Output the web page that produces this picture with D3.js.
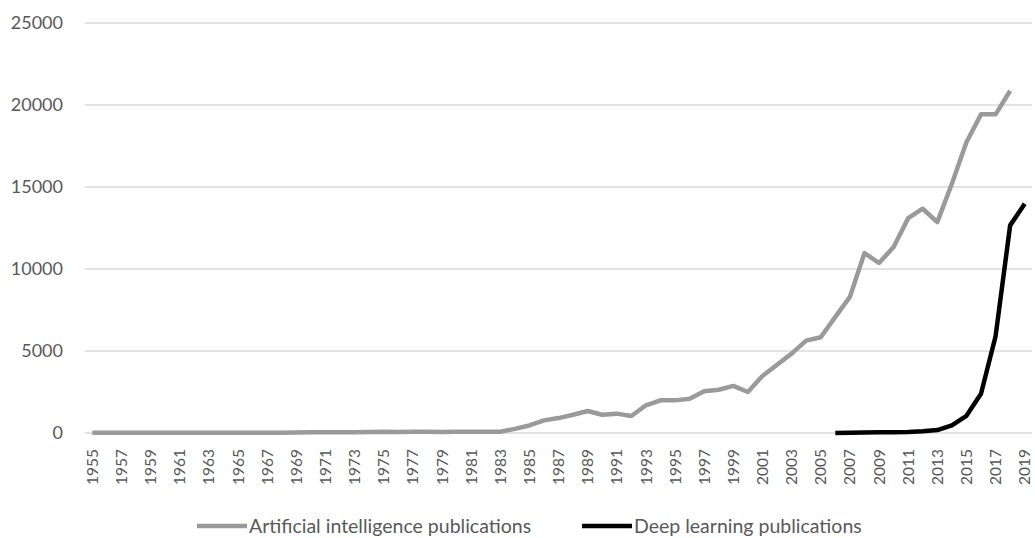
<!DOCTYPE html>
<html><head><meta charset="utf-8">
<script src="https://cdn.jsdelivr.net/npm/d3@7"></script>
<style>body{margin:0;background:#fff;}svg{display:block;font-family:Lato,"Open Sans",sans-serif;}</style>
</head><body><svg id="c" width="1035" height="538"></svg>
<script>
const years = d3.range(1955, 2020).map(String);
const aiYears = d3.range(1955, 2019).map(String);
const aiValues = [10,10,10,10,10,10,10,10,10,10,10,10,15,20,30,40,50,50,50,60,80,60,80,70,60,70,80,80,80,250,460,770,910,1110,1340,1110,1180,1040,1690,1990,1990,2090,2540,2640,2870,2500,3480,4160,4840,5630,5840,7080,8300,10970,10365,11340,13100,13675,12860,15200,17730,19430,19430,20870];
const dlYears = d3.range(2006, 2020).map(String);
const dlValues = [0,10,30,40,40,60,100,180,460,1050,2390,5900,12660,13980];
const yTicks = [0,5000,10000,15000,20000,25000];
const xTickLabels = years.filter((d,i)=>i%2===0);
const seriesNames = ["Artificial intelligence publications","Deep learning publications"];

const svg = d3.select("#c");
const mLeft = 85, mRight = 1032, mTop = 23, mBottom = 433;
const x = d3.scalePoint().domain(years).range([mLeft, mRight]).padding(0.5);
const y = d3.scaleLinear().domain([0,25000]).range([mBottom, mTop]);

svg.append("g").selectAll("line").data(yTicks).join("line")
  .attr("x1", mLeft).attr("x2", mRight).attr("y1", d=>y(d)).attr("y2", d=>y(d))
  .attr("stroke", "#d9d9d9").attr("stroke-width", 1.3);

svg.append("g").selectAll("text").data(yTicks).join("text")
  .attr("x", 63).attr("y", d=>y(d)).attr("dy","0.35em").attr("text-anchor","end")
  .attr("font-size", 18).attr("fill", "#595959").text(d=>d);

svg.append("g").selectAll("text").data(xTickLabels).join("text")
  .attr("transform", d=>`translate(${x(d)},${mBottom+16}) rotate(-90)`)
  .attr("text-anchor","end").attr("dy","0.36em")
  .attr("font-size", 15.5).attr("fill", "#595959").text(d=>d);

const line = d3.line().x(d=>x(d[0])).y(d=>y(d[1]));
svg.append("path").datum(aiYears.map((d,i)=>[d, aiValues[i]]))
  .attr("d", line).attr("fill","none").attr("stroke","#9a9a9a").attr("stroke-width",4.5).attr("stroke-linejoin","round");
svg.append("path").datum(dlYears.map((d,i)=>[d, dlValues[i]]))
  .attr("d", line).attr("fill","none").attr("stroke","#000").attr("stroke-width",4.5).attr("stroke-linejoin","round");

const leg = [{name:seriesNames[0], color:"#9a9a9a", x:197},{name:seriesNames[1], color:"#000", x:582}];
const lg = svg.append("g").selectAll("g").data(leg).join("g").attr("transform", d=>`translate(${d.x},526)`);
lg.append("line").attr("x1",0).attr("x2",50).attr("stroke",d=>d.color).attr("stroke-width",4.5);
lg.append("text").attr("x",52).attr("dy","0.35em").attr("font-size",19.5).attr("fill","#595959").text(d=>d.name);
</script></body></html>
